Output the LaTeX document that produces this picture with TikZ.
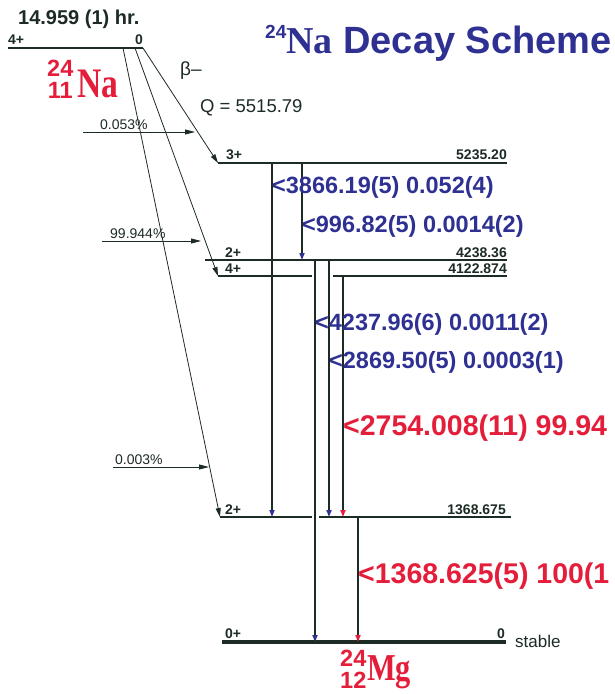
\documentclass[tikz,border=0pt]{standalone}
\usepackage{fontspec}
\setmainfont{Liberation Sans}
\newfontfamily\elemfont{Liberation Serif}
\usepackage{graphicx}
\usetikzlibrary{arrows.meta}
\definecolor{schemeblue}{HTML}{2E3192}
\definecolor{schemered}{HTML}{E41E3A}
\definecolor{linedark}{HTML}{1C2B24}

\begin{document}
\begin{tikzpicture}[x=1pt,y=-1pt,level/.style={draw=linedark,line width=2pt},gammaline/.style={draw=linedark,line width=1.6pt},bluetip/.style={gammaline,-{Triangle[length=7pt,width=5pt,color=schemeblue]}},redtip/.style={gammaline,-{Triangle[length=7pt,width=5pt,color=schemered]}},betaline/.style={draw=linedark,line width=0.8pt,-{Triangle[length=9pt,width=5pt]}},feed/.style={draw=linedark,line width=0.8pt,-{Triangle[length=10pt,width=5pt]}},gammalabel/.style={anchor=base west,inner sep=0,text=schemeblue,font=\bfseries\fontsize{23.5}{26}\selectfont},biglabel/.style={anchor=base west,inner sep=0,text=schemered,font=\bfseries\fontsize{28.5}{32}\selectfont},spin/.style={anchor=base west,inner sep=0,text=linedark,font=\bfseries\fontsize{14}{16}\selectfont},energy/.style={anchor=base east,inner sep=0,text=linedark,font=\bfseries\fontsize{14}{16}\selectfont},percent/.style={anchor=base west,inner sep=0,text=linedark,font=\fontsize{14}{16}\selectfont},nuclide/.style={anchor=north west,inner sep=0,text=schemered,font=\bfseries\fontsize{23.5}{22}\selectfont,align=center},symbol/.style={anchor=base west,inner sep=0,text=schemered}]
\clip (0,0) rectangle (615,694);
\coordinate (pw) at (8,48); \coordinate (pe) at (143,48); \coordinate (b4122) at (135,48); \coordinate (b1368) at (123,48);
\coordinate (l5235w) at (218,163); \coordinate (l5235e) at (507,163); \coordinate (l4238w) at (205,260); \coordinate (l4238e) at (507,260);
\coordinate (l4122w) at (218,276); \coordinate (l4122e) at (507,276); \coordinate (l1368w) at (220,517); \coordinate (l1368e) at (511,517);
\coordinate (l0w) at (222,642); \coordinate (l0e) at (506,642);
\coordinate (c3866) at (272,0); \coordinate (c996) at (302,0); \coordinate (c4237) at (315,0); \coordinate (c2869) at (329,0); \coordinate (c2754) at (343,0); \coordinate (c1368) at (358,0);
\coordinate (f5235s) at (83,132); \coordinate (f5235e) at (195,132); \coordinate (f4122s) at (102,241); \coordinate (f4122e) at (201,241); \coordinate (f1368s) at (113,467); \coordinate (f1368e) at (209,467);
\node[anchor=base west,inner sep=0,text=linedark,font=\bfseries\fontsize{20}{22}\selectfont] (halflife) at (18,24) {14.959 (1) hr.};
\node[spin] (pspin) at (8,44) {4+}; \node[energy] (penergy) at (143,44) {0};
\node[nuclide] (naz) at (47,60) {24\\11}; \node[symbol,font=\elemfont\bfseries\fontsize{42}{44}\selectfont] (nasym) at (77,97) {\scalebox{0.8}[1]{Na}};
\node[anchor=base west,inner sep=0,text=linedark,font=\fontsize{19}{20}\selectfont] (beta) at (180,75) {β–};
\node[anchor=base west,inner sep=0,text=linedark,font=\fontsize{18.5}{20}\selectfont] (qval) at (200,112) {Q = 5515.79};
\node[anchor=base west,inner sep=0,text=schemeblue,font=\bfseries\fontsize{38}{40}\selectfont] (title) at (265,53) {\raisebox{15pt}{\fontsize{19}{20}\selectfont 24}{\elemfont Na} Decay Scheme};
\draw[level,line width=2.5pt] (pw) -- (pe);
\draw[level] (l5235w) -- (l5235e); \draw[level] (l4238w) -- (l4238e);
\draw[level] (l4122w) -- (312,276); \draw[level] (333,276) -- (l4122e);
\draw[level] (l1368w) -- (312,517); \draw[level] (319,517) -- (l1368e);
\draw[level,line width=3.5pt] (l0w) -- (l0e);
\draw[betaline] (pe) -- (l5235w); \draw[betaline] (b4122) -- (l4122w); \draw[betaline] (b1368) -- (l1368w);
\draw[feed] (f5235s) -- (f5235e); \draw[feed] (f4122s) -- (f4122e); \draw[feed] (f1368s) -- (f1368e);
\draw[bluetip] (c3866 |- l5235w) -- (c3866 |- l1368w); \draw[bluetip] (c996 |- l5235w) -- (c996 |- l4238w);
\draw[bluetip] (c4237 |- l4238w) -- (c4237 |- l0w); \draw[bluetip] (c2869 |- l4238w) -- (c2869 |- l1368w);
\draw[redtip] (c2754 |- l4122w) -- (c2754 |- l1368w); \draw[redtip] (c1368 |- l1368w) -- (c1368 |- l0w);
\node[spin] (s5235) at (226,159) {3+}; \node[energy] (e5235) at (507,159) {5235.20};
\node[spin] (s4238) at (225,257) {2+}; \node[energy] (e4238) at (507,257) {4238.36};
\node[spin] (s4122) at (225,273) {4+}; \node[energy] (e4122) at (507,273) {4122.874};
\node[spin] (s1368) at (225,514) {2+}; \node[energy] (e1368) at (506,514) {1368.675};
\node[spin] (s0) at (225,638) {0+}; \node[energy] (e0) at (505,638) {0};
\node[percent,font=\fontsize{17}{18}\selectfont] (stable) at (515,647) {stable};
\node[percent] (p5235) at (100,129) {0.053\%}; \node[percent] (p4122) at (110,238) {99.944\%}; \node[percent] (p1368) at (115,464) {0.003\%};
\node[gammalabel] (g3866) at (272,193) {<3866.19(5) 0.052(4)};
\node[gammalabel] (g996) at (302,232) {<996.82(5) 0.0014(2)};
\node[gammalabel] (g4237) at (315,330) {<4237.96(6) 0.0011(2)};
\node[gammalabel] (g2869) at (329,368) {<2869.50(5) 0.0003(1)};
\node[biglabel] (g2754) at (343,435) {<2754.008(11) 99.94};
\node[biglabel] (g1368) at (358,583) {<1368.625(5) 100(1};
\node[nuclide] (mgz) at (340,650) {24\\12}; \node[symbol,font=\elemfont\bfseries\fontsize{38}{40}\selectfont] (mgsym) at (367,680) {\scalebox{0.8}[1]{Mg}};
\end{tikzpicture}
\end{document}
